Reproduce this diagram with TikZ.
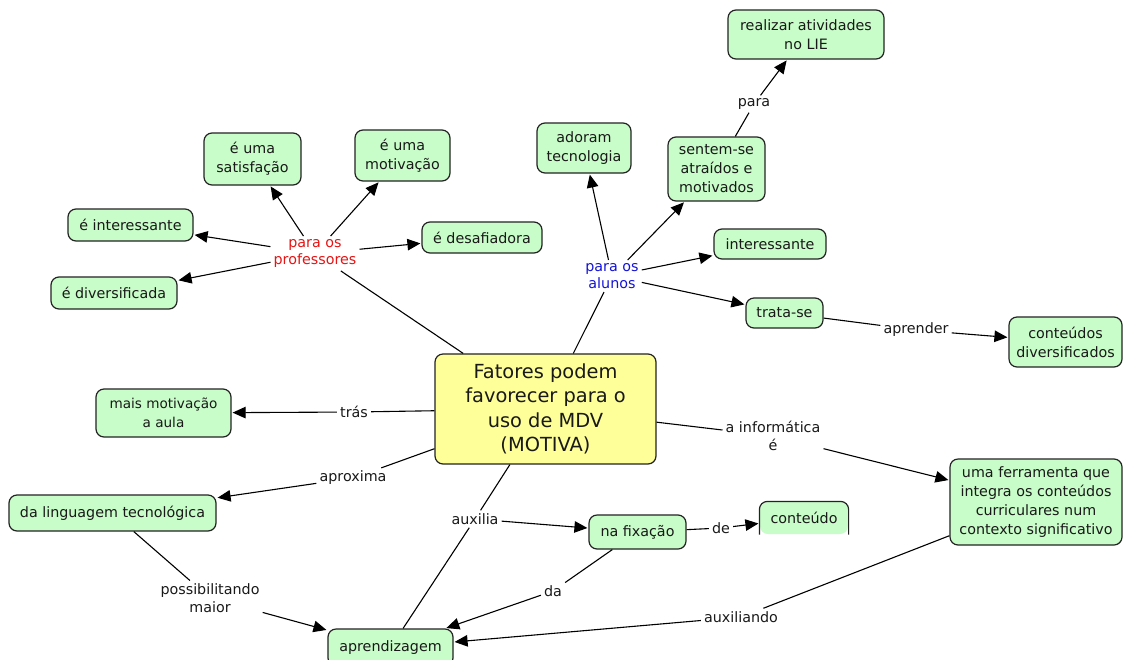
\documentclass[tikz,border=0pt]{standalone}
\usepackage{fontspec}
\setmainfont{DejaVu Sans}
\usetikzlibrary{arrows.meta}
\definecolor{cgreen}{RGB}{200,252,200}
\definecolor{cyellow}{RGB}{255,255,153}
\definecolor{cborder}{RGB}{35,35,35}
\definecolor{cred}{RGB}{230,20,20}
\definecolor{cblue}{RGB}{20,20,215}
\definecolor{ctext}{RGB}{25,25,25}
\tikzset{
  x=1pt, y=-1pt,
  concept/.style={draw=cborder, line width=1.2pt, fill=cgreen, rounded corners=8pt,
    align=center, inner sep=2pt, text=ctext, font=\fontsize{14.3}{19}\selectfont},
  mainbox/.style={concept, fill=cyellow, font=\fontsize{19.4}{24.5}\selectfont},
  linkp/.style={align=center, inner sep=3pt, text=ctext, font=\fontsize{14.3}{17.5}\selectfont},
  conn/.style={draw=black, line width=1.1pt},
  arr/.style={conn, -{Triangle[length=13pt,width=11.5pt]}, shorten >=1pt},
}
\begin{document}
\begin{tikzpicture}
\useasboundingbox[fill=white] (0,0) rectangle (1123,659);
% concepts
\node[concept, minimum width=156, minimum height=49] (realizar) at (806,34.5) {realizar atividades\\no LIE};
\node[concept, minimum width=94, minimum height=50] (adoram) at (584,148) {adoram\\tecnologia};
\node[concept, minimum width=97, minimum height=64] (sentem) at (716.5,169) {sentem-se\\atraídos e\\motivados};
\node[concept, minimum width=97, minimum height=52] (satisf) at (252.5,159) {é uma\\satisfação};
\node[concept, minimum width=95, minimum height=51] (motiv) at (402.5,155.5) {é uma\\motivação};
\node[concept, minimum width=125, minimum height=32] (einter) at (130.5,225) {é interessante};
\node[concept, minimum width=120, minimum height=31] (desaf) at (482,237.5) {é desafiadora};
\node[concept, minimum width=126, minimum height=32] (divers) at (114,293) {é diversificada};
\node[concept, minimum width=112, minimum height=30] (inter) at (770,244) {interessante};
\node[concept, minimum width=77, minimum height=30] (trata) at (784.5,313) {trata-se};
\node[concept, minimum width=113, minimum height=50] (contdiv) at (1065.5,342) {conteúdos\\diversificados};
\node[mainbox, minimum width=221, minimum height=110] (main) at (545.5,409) {Fatores podem\\favorecer para o\\uso de MDV\\(MOTIVA)};
\node[concept, minimum width=135, minimum height=48, font=\fontsize{13.6}{18.5}\selectfont] (mais) at (163.5,413) {mais motivação\\a aula};
\node[concept, minimum width=207, minimum height=36] (ling) at (112.5,513) {da linguagem tecnológica};
\node[concept, minimum width=97, minimum height=34] (fix) at (637.5,532) {na fixação};
\node[concept, draw=none, minimum width=88, minimum height=32] (conteudo) at (804,518) {conteúdo};
\draw[draw=cborder, line width=1.2pt, rounded corners=8pt] (conteudo.south west) -- (conteudo.north west) -- (conteudo.north east) -- (conteudo.south east);
\node[concept, minimum width=172, minimum height=86] (ferr) at (1036,502) {uma ferramenta que\\integra os conteúdos\\curriculares num\\contexto significativo};
\node[concept, minimum width=125, minimum height=37] (aprend) at (390.5,647.5) {aprendizagem};
% linking phrases
\node[linkp, text=cred] (profs) at (315,253.5) {para os\\professores};
\node[linkp, text=cblue] (alunos) at (612,276) {para os\\alunos};
\node[linkp] (para) at (754,104) {para};
\node[linkp] (aprender) at (916,330) {aprender};
\node[linkp] (tras) at (354,412) {trás};
\node[linkp] (aprox) at (353,478) {aproxima};
\node[linkp] (inform) at (773,436) {a informática\\é};
\node[linkp] (auxilia) at (475,519) {auxilia};
\node[linkp] (de) at (721,528) {de};
\node[linkp] (da) at (553,591) {da};
\node[linkp] (possib) at (210,598) {possibilitando\\maior};
\node[linkp] (auxiliando) at (741,617) {auxiliando};
% connectors: professores
\draw[conn] (main) -- (profs);
\draw[arr] (profs) -- (satisf);
\draw[arr] (profs) -- (motiv);
\draw[arr] (profs) -- (einter);
\draw[arr] (profs) -- (divers);
\draw[arr] (profs) -- (desaf);
% alunos
\draw[conn] (main) -- (alunos);
\draw[arr] (alunos) -- (adoram);
\draw[arr] (alunos) -- (sentem);
\draw[arr] (alunos) -- (inter);
\draw[arr] (alunos) -- (trata);
\draw[conn] (sentem) -- (para);
\draw[arr] (para) -- (realizar);
\draw[conn] (trata) -- (aprender);
\draw[arr] (aprender) -- (contdiv);
% left and bottom
\draw[conn] (main) -- (tras);
\draw[arr] (tras) -- (mais);
\draw[conn] (main) -- (aprox);
\draw[arr] (aprox) -- (ling);
\draw[conn] (ling) -- (possib);
\draw[arr] (possib) -- (aprend);
\draw[conn] (main) -- (auxilia);
\draw[conn] (auxilia) -- (aprend);
\draw[arr] (auxilia) -- (fix);
\draw[conn] (fix) -- (de);
\draw[arr] (de) -- (conteudo);
\draw[conn] (fix) -- (da);
\draw[arr] (da) -- (aprend);
\draw[conn] (main) -- (inform);
\draw[arr] (inform) -- (ferr);
\draw[conn] (ferr) -- (auxiliando);
\draw[arr] (auxiliando) -- (aprend);
\end{tikzpicture}
\end{document}
